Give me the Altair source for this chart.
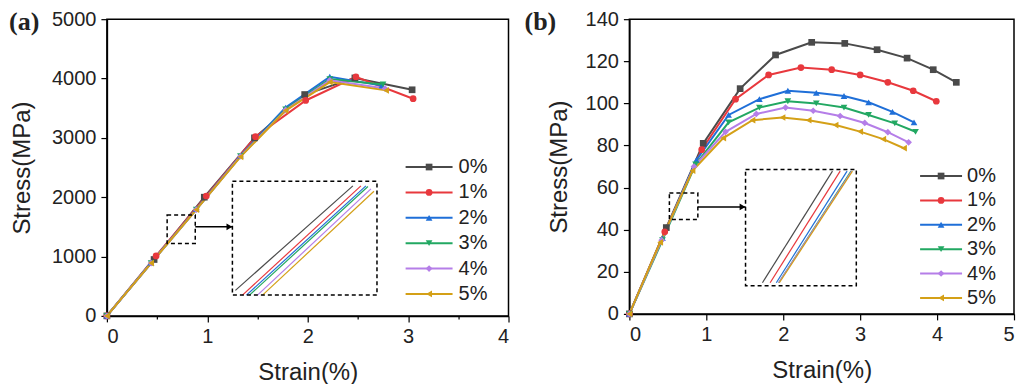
import altair as alt
import pandas as pd

SERIES = ["0%", "1%", "2%", "3%", "4%", "5%"]
COLORS = ["#4a4a4a", "#e8383d", "#1f6fd8", "#22a862", "#b57ee8", "#d4a017"]
SHAPES = ["square", "circle", "triangle-up", "triangle-down", "diamond", "triangle-left"]

# ---- panel (a) curves: strain (%) and stress (MPa) ----
a_strain_0 = [0, 0.47, 0.97, 1.47, 1.97, 2.47, 3.04]
a_stress_0 = [0, 950, 2000, 3000, 3730, 4010, 3810]
a_strain_1 = [0, 0.49, 0.99, 1.48, 1.98, 2.48, 3.05]
a_stress_1 = [0, 1010, 2020, 3020, 3630, 4030, 3660]
a_strain_2 = [0, 0.44, 0.89, 1.33, 1.78, 2.22, 2.74]
a_stress_2 = [0, 900, 1800, 2700, 3510, 4030, 3880]
a_strain_3 = [0, 0.44, 0.89, 1.33, 1.78, 2.22, 2.75]
a_stress_3 = [0, 890, 1790, 2690, 3480, 3990, 3900]
a_strain_4 = [0, 0.44, 0.89, 1.33, 1.78, 2.22, 2.77]
a_stress_4 = [0, 890, 1790, 2690, 3470, 3970, 3830]
a_strain_5 = [0, 0.44, 0.89, 1.33, 1.78, 2.22, 2.78]
a_stress_5 = [0, 890, 1790, 2680, 3460, 3940, 3800]

# ---- panel (b) curves ----
b_strain_0 = [0, 0.48, 0.96, 1.44, 1.90, 2.37, 2.80, 3.22, 3.61, 3.95, 4.25]
b_stress_0 = [0, 41, 81, 107, 123, 129, 128.5, 125.5, 121.5, 116, 110]
b_strain_1 = [0, 0.46, 0.94, 1.38, 1.81, 2.23, 2.63, 3.00, 3.36, 3.69, 3.99]
b_stress_1 = [0, 39, 78, 102, 113.5, 117, 116, 113.5, 110, 106, 101]
b_strain_2 = [0, 0.43, 0.87, 1.29, 1.69, 2.06, 2.43, 2.79, 3.11, 3.42, 3.70]
b_stress_2 = [0, 36, 73, 94.5, 102, 106, 105, 103.5, 100.5, 96, 91]
b_strain_3 = [0, 0.43, 0.86, 1.29, 1.69, 2.06, 2.43, 2.79, 3.11, 3.45, 3.72]
b_stress_3 = [0, 35, 71, 91, 98, 101, 100, 98, 94.5, 90.5, 86.5]
b_strain_4 = [0, 0.42, 0.84, 1.25, 1.65, 2.03, 2.39, 2.74, 3.06, 3.36, 3.63]
b_stress_4 = [0, 35, 70, 86.5, 95, 98, 96.5, 94, 90.7, 86.3, 81.5]
b_strain_5 = [0, 0.40, 0.82, 1.22, 1.60, 1.99, 2.33, 2.68, 3.00, 3.30, 3.57]
b_stress_5 = [0, 34, 68, 83.5, 92, 93.3, 92, 89.7, 86.6, 83, 78.7]

# ---- insets (zoomed segments, drawn in axis units) ----
a_inset_x0 = [1.28, 1.35, 1.39, 1.42, 1.50, 1.55]
a_inset_y0 = [430, 350, 350, 350, 350, 350]
a_inset_x1 = [2.45, 2.53, 2.58, 2.60, 2.63, 2.66]
a_inset_y1 = [2190, 2190, 2190, 2180, 2140, 2100]
a_boxes_x0 = [0.60, 1.25]
a_boxes_x1 = [0.88, 2.69]
a_boxes_y0 = [1220, 350]
a_boxes_y1 = [1700, 2270]
a_arrow = [0.88, 1.25, 1500]

b_inset_x0 = [1.73, 1.83, 1.91, 1.94, 1.94, 1.95]
b_inset_y0 = [14.8, 14.8, 14.8, 14.8, 14.8, 14.8]
b_inset_x1 = [2.64, 2.74, 2.83, 2.88, 2.89, 2.90]
b_inset_y1 = [67.8, 67.8, 67.8, 67.8, 67.8, 67.8]
b_boxes_x0 = [0.52, 1.51]
b_boxes_x1 = [0.89, 2.95]
b_boxes_y0 = [44.8, 13.4]
b_boxes_y1 = [57.4, 68.6]
b_arrow = [0.89, 1.51, 50.8]

FONT = "Liberation Sans"

color_enc = alt.Color("series:N", scale=alt.Scale(domain=SERIES, range=COLORS), legend=None)
shape_enc = alt.Shape("series:N", scale=alt.Scale(domain=SERIES, range=SHAPES), legend=None)


def curves_df(strains, stresses):
    rows = []
    for s, xs, ys in zip(SERIES, strains, stresses):
        for i, (x, y) in enumerate(zip(xs, ys)):
            rows.append({"series": s, "idx": i, "strain": x, "stress": y})
    return pd.DataFrame(rows)


def panel(df, inset, boxes, arrow, xmax, ymax, ylab_step, yminor, width, height,
          leg_x, leg_y, tag, tag_x, title_pad):
    xvals = [i * 0.5 for i in range(int(round(xmax / 0.5)) + 1)]
    yvals = [i * yminor for i in range(int(round(ymax / yminor)) + 1)]
    xs = alt.Scale(domain=[0, xmax], nice=False)
    ys = alt.Scale(domain=[0, ymax], nice=False)
    xaxis = alt.Axis(values=xvals, title="Strain(%)", format="~g",
                     labelExpr="datum.value % 1 === 0 ? datum.label : ''",
                     tickSize={"condition": {"test": "datum.value % 1 !== 0", "value": 3}, "value": 6},
                     labelOverlap=False, titlePadding=14)
    yaxis = alt.Axis(values=yvals, title="Stress(MPa)", format="d",
                     labelExpr=f"datum.value % {ylab_step} === 0 ? datum.label : ''",
                     tickSize={"condition": {"test": f"datum.value % {ylab_step} !== 0", "value": 3}, "value": 6},
                     labelOverlap=False, titlePadding=title_pad)
    X = alt.X("strain:Q", scale=xs, axis=xaxis)
    Y = alt.Y("stress:Q", scale=ys, axis=yaxis)

    base = alt.Chart(df)
    lines = base.mark_line(strokeWidth=2).encode(x=X, y=Y, color=color_enc, order="idx:Q")
    pts = base.mark_point(filled=True, size=45, opacity=1).encode(x=X, y=Y, color=color_enc, shape=shape_enc)

    ins = alt.Chart(inset).mark_rule(strokeWidth=1.2).encode(
        x=alt.X("x0:Q", scale=xs), x2="x1:Q", y=alt.Y("y0:Q", scale=ys), y2="y1:Q", color=color_enc)
    bx = alt.Chart(boxes).mark_rect(fillOpacity=0, stroke="black", strokeDash=[4, 3], strokeWidth=1.5).encode(
        x=alt.X("x0:Q", scale=xs), x2="x1:Q", y=alt.Y("y0:Q", scale=ys), y2="y1:Q")
    ar = alt.Chart(arrow).mark_rule(color="black", strokeWidth=1.5).encode(
        x=alt.X("x0:Q", scale=xs), x2="x1:Q", y=alt.Y("y:Q", scale=ys))
    ah = alt.Chart(arrow).mark_point(shape="triangle-right", filled=True, color="black", size=45,
                                     opacity=1, xOffset=-3).encode(
        x=alt.X("x1:Q", scale=xs), y=alt.Y("y:Q", scale=ys))

    main = alt.layer(lines, pts, ins, bx, ar, ah)

    leg = pd.DataFrame({"series": SERIES, "rank": list(range(len(SERIES)))})
    LY = alt.Y("rank:Q", scale=alt.Scale(domain=[0, 5], range=leg_y), axis=None)
    lb = alt.Chart(leg)
    lr = lb.mark_rule(strokeWidth=2).encode(x=alt.value(leg_x[0]), x2=alt.value(leg_x[1]), y=LY, color=color_enc)
    lp = lb.mark_point(filled=True, size=45, opacity=1).encode(
        x=alt.value((leg_x[0] + leg_x[1]) / 2), y=LY, color=color_enc, shape=shape_enc)
    lt = lb.mark_text(align="left", baseline="middle", fontSize=20, font=FONT, color="#222").encode(
        x=alt.value(leg_x[2]), y=LY, text="series:N")
    tg = alt.Chart(pd.DataFrame({"t": [tag]})).mark_text(
        align="left", baseline="middle", fontSize=26, font="Liberation Serif", fontWeight="bold",
        color="#222").encode(x=alt.value(tag_x), y=alt.value(3), text="t:N")
    legend = alt.layer(lr, lp, lt, tg)

    return alt.layer(main, legend).resolve_scale(y="independent").properties(width=width, height=height)


dfa = curves_df([a_strain_0, a_strain_1, a_strain_2, a_strain_3, a_strain_4, a_strain_5],
                [a_stress_0, a_stress_1, a_stress_2, a_stress_3, a_stress_4, a_stress_5])
dfb = curves_df([b_strain_0, b_strain_1, b_strain_2, b_strain_3, b_strain_4, b_strain_5],
                [b_stress_0, b_stress_1, b_stress_2, b_stress_3, b_stress_4, b_stress_5])

ins_a = pd.DataFrame({"series": SERIES, "x0": a_inset_x0, "y0": a_inset_y0, "x1": a_inset_x1, "y1": a_inset_y1})
ins_b = pd.DataFrame({"series": SERIES, "x0": b_inset_x0, "y0": b_inset_y0, "x1": b_inset_x1, "y1": b_inset_y1})
box_a = pd.DataFrame({"x0": a_boxes_x0, "x1": a_boxes_x1, "y0": a_boxes_y0, "y1": a_boxes_y1})
box_b = pd.DataFrame({"x0": b_boxes_x0, "x1": b_boxes_x1, "y0": b_boxes_y0, "y1": b_boxes_y1})
arr_a = pd.DataFrame({"x0": [a_arrow[0]], "x1": [a_arrow[1]], "y": [a_arrow[2]]})
arr_b = pd.DataFrame({"x0": [b_arrow[0]], "x1": [b_arrow[1]], "y": [b_arrow[2]]})

pa = panel(dfa, ins_a, box_a, arr_a, 4, 5000, 1000, 500, 402, 297,
           [299, 346, 352], [148, 275], "(a)", -98, 17)
pb = panel(dfb, ins_b, box_b, arr_b, 5, 140, 20, 10, 385, 295,
           [291, 333, 338], [157, 279], "(b)", -105, 14)

chart = alt.hconcat(pa, pb, spacing=13).properties(
    padding={"top": 0, "left": 0, "right": 0, "bottom": 0}
).configure_view(
    stroke="black", strokeWidth=1.5
).configure_axis(
    grid=False, domainColor="black", domainWidth=1.5, tickColor="black", tickWidth=1.2,
    labelFont=FONT, labelFontSize=20, labelColor="#222", labelPadding=5,
    titleFont=FONT, titleFontSize=24, titleFontWeight="normal", titleColor="#222"
)

chart.save("out.html", embed_options={"renderer": "svg", "actions": False})
